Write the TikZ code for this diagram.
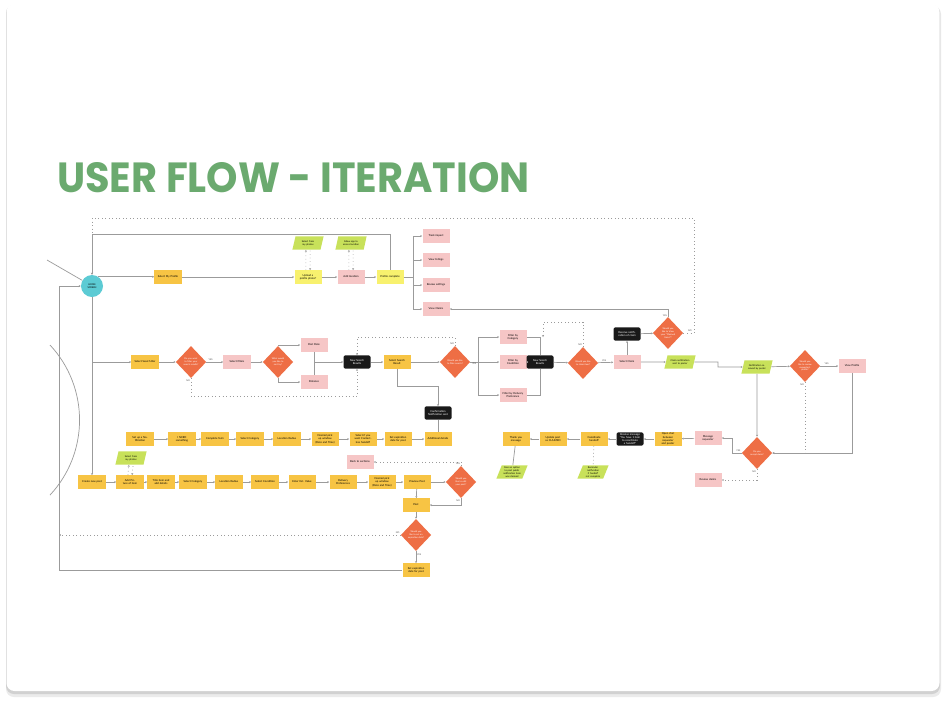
\documentclass[tikz,border=0pt]{standalone}
\usepackage{fontspec}
\setmainfont{Lato}
\newfontfamily\titlefont{Poppins}
\usetikzlibrary{shapes.geometric,arrows.meta}

\definecolor{flowyellow}{HTML}{F7C444}
\definecolor{flowlight}{HTML}{F8F16E}
\definecolor{flowpink}{HTML}{F6C6C6}
\definecolor{flowgreen}{HTML}{C8E15A}
\definecolor{floworange}{HTML}{EE6E45}
\definecolor{flowcyan}{HTML}{5CCBD4}
\definecolor{flowline}{HTML}{9B9B9B}
\definecolor{titlegreen}{HTML}{6BAA6F}

\tikzset{
  box/.style={rectangle, minimum width=0.675cm, minimum height=0.33cm, inner sep=0.2pt,
    text width=0.52cm, align=center, font=\fontsize{1.9}{2.3}\selectfont},
  ybox/.style={box, fill=flowyellow},
  lybox/.style={box, fill=flowlight},
  pbox/.style={box, fill=flowpink},
  bbox/.style={box, fill=black!90, text=white, rounded corners=1pt},
  gpar/.style={trapezium, trapezium left angle=65, trapezium right angle=115,
    trapezium stretches=true, minimum width=0.78cm, minimum height=0.33cm, inner sep=0pt,
    fill=flowgreen, text width=0.48cm, align=center, font=\fontsize{1.7}{2.1}\selectfont},
  dmd/.style={diamond, minimum width=0.76cm, minimum height=0.8cm, inner sep=0pt,
    fill=floworange, text=white, text width=0.4cm, align=center,
    font=\fontsize{1.6}{2}\selectfont},
  lbl/.style={font=\fontsize{1.6}{2}\selectfont, text=black!70, inner sep=0.6pt},
  flow/.style={draw=flowline, line width=0.5pt},
  >={Stealth[length=1.4pt,width=1.4pt]},
}

\begin{document}
\begin{tikzpicture}[x=0.025cm, y=-0.025cm]
\useasboundingbox (0,0) rectangle (947,706);
% card
\fill[white] (0,0) rectangle (947,706);
\fill[black!8, rounded corners=0.2cm] (6,6) rectangle (941,697);
\fill[black!18, rounded corners=0.2cm] (6,5) rectangle (940,694);
\fill[white, rounded corners=0.2cm] (6.5,4) rectangle (939.5,691);

% title
\node[anchor=west, inner sep=0pt, text=titlegreen] (title) at (57,178)
  {\resizebox{11.8cm}{0.75cm}{\titlefont\bfseries USER FLOW - ITERATION}};

% home
\node[circle, fill=flowcyan, minimum size=0.55cm, inner sep=0pt, align=center,
  font=\fontsize{1.7}{2}\selectfont] (home) at (92,286) {HOME\\SCREEN};
\coordinate (offL) at (47,260);
\draw[flow] (offL) -- (home);
\draw[flow] (50,345) arc[start angle=-43, end angle=43, radius=110];

% profile row
\node[ybox] (p1) at (168,277) {Select My Profile};
\node[lybox] (p2) at (308,277) {Upload a profile photo?};
\node[pbox] (p3) at (351,277) {Add location};
\node[lybox] (p4) at (390,277) {Profile complete};
\node[gpar] (pg1) at (308,243) {Select from my photos};
\node[gpar] (pg2) at (351,243) {Allow app to access location};
\node[pbox] (v1) at (436,236) {Track impact};
\node[pbox] (v2) at (436,260) {View listings};
\node[pbox] (v3) at (436,285) {Review settings};
\node[pbox] (v4) at (436,309) {View Claims};

% search row
\node[ybox] (s1) at (145,362) {Select Search Bar};
\node[dmd] (d1) at (191,362) {Do you want to filter your search results?};
\node[pbox] (s2) at (237,362) {Select filters};
\node[dmd] (d2) at (278,362) {What would you like to sort by?};
\node[pbox] (s3) at (314,345) {Post Date};
\node[pbox] (s4) at (314,382) {Distance};
\node[bbox] (b1) at (357,362) {New Search Results};
\node[ybox] (s5) at (397,362) {Select Search Result};
\node[dmd] (d3) at (455,362) {Would you like to filter search?};
\node[pbox] (f1) at (513,337) {Filter by Category};
\node[pbox] (f2) at (513,362) {Filter by Condition};
\node[pbox] (f3) at (513,395) {Filter by Delivery Preference};
\node[bbox] (b2) at (540,362) {New Search Results};
\node[dmd] (d4) at (583,363) {Would you like to claim item?};
\node[pbox] (c1) at (627,362) {Select Claim};
\node[bbox] (b3) at (627,334) {Receive notification of claim};
\node[dmd] (d5) at (668,333) {Would you like to View your ``Claimed Items''?};
\node[gpar] (g1) at (680,362) {Claim notification sent to poster};
\node[gpar] (g2) at (757,367) {Notification received by poster};
\node[dmd] (d6) at (805,366) {Would you like to review requester's profile?};
\node[pbox] (c2) at (852,366) {View Profile};
\node[bbox] (b4) at (438,413) {Confirmation Notification sent};

% claim row
\node[dmd] (d7) at (757,453) {Do you accept claim?};
\node[pbox] (m1) at (708,438) {Message requester};
\node[pbox] (m2) at (708,480) {Review claims};
\node[ybox] (r1) at (668,439) {Open chat between requester and poster};
\node[bbox] (r2) at (630,439) {Receive message ``You have 1 item to coordinate a handoff''};
\node[ybox] (r3) at (594,439) {Coordinate handoff};
\node[ybox] (r4) at (553,439) {Update post as CLAIMED};
\node[ybox] (r5) at (516,439) {Thank you message};
\node[gpar] (g3) at (512,472) {Give an option to post public notification item was claimed};
\node[gpar] (g4) at (593,472) {Reminder notification if handoff not complete};

% notification row
\node[ybox] (n1) at (140,439) {Set up a Notification};
\node[ybox] (n2) at (182,439) {I NEED something};
\node[ybox] (n3) at (215,439) {Complete form};
\node[ybox] (n4) at (250,439) {Select Category};
\node[ybox] (n5) at (287,439) {Location Radius};
\node[ybox] (n6) at (325,439) {Desired pick up window (Date and Time)};
\node[ybox] (n7) at (363,439) {Select if you want Contactless handoff};
\node[ybox] (n8) at (398,439) {Set expiration date for post};
\node[ybox] (n9) at (438,439) {Additional details};

% post row
\node[ybox] (q1) at (92,482) {Create new post};
\node[ybox] (q2) at (130,482) {Add Picture of item};
\node[gpar] (pg3) at (131,458) {Select from my photos};
\node[ybox] (q3) at (161,482) {Title item and add details};
\node[ybox] (q4) at (193,482) {Select Category};
\node[ybox] (q5) at (229,482) {Location Radius};
\node[ybox] (q6) at (265,482) {Select Condition};
\node[ybox] (q7) at (302,482) {Enter Est. Value};
\node[ybox] (q8) at (343,482) {Delivery Preferences};
\node[ybox] (q9) at (382,482) {Desired pick up window (Date and Time)};
\node[ybox] (q10) at (417,482) {Preview Post};
\node[dmd] (d8) at (461,482) {Would you like to edit your post?};
\node[pbox] (bk) at (360,462) {Back to sections};
\node[ybox] (post) at (416,505) {Post};
\node[dmd] (d9) at (416,535) {Would you like to set an expiration date?};
\node[ybox] (setexp) at (416,570) {Set expiration date for post};

% home links
\coordinate (topL) at (92,218);
\coordinate (topR) at (694,218);
\coordinate (midL) at (92,234);
\coordinate (lft) at (59,286);
\coordinate (lfx) at (59,535);
\draw[flow, dotted, ->] (d5.east) -| (topR) node[lbl, pos=0.45, above left]{NO} -- (topL) -- (home.north);
\draw[flow, ->] (p4.north) |- (midL) -- (home.north);
\draw[flow, ->] (setexp.west) -| (lft) -- (home.west);
\draw[flow, ->] (home) -- (q1);
\draw[flow, ->] (home |- s1) -- (s1);

% profile links
\draw[flow, ->] (home.55) -- (home.55 -| p1.west);
\foreach \a/\b in {p1/p2, p2/p3, p3/p4}
  \draw[flow, ->] (\a) -- (\b);
\draw[flow, dotted, ->] ([xshift=-1.5pt]p2.north) -- ([xshift=-1.5pt]pg1.south);
\draw[flow, dotted, <-] ([xshift=1.5pt]p2.north) -- ([xshift=1.5pt]pg1.south);
\draw[flow, dotted, ->] ([xshift=-1.5pt]p3.north) -- ([xshift=-1.5pt]pg2.south);
\draw[flow, dotted, <-] ([xshift=1.5pt]p3.north) -- ([xshift=1.5pt]pg2.south);
\coordinate (pb) at (413,277);
\draw[flow] (p4) -- (pb);
\foreach \v in {v1, v2, v3, v4}
  \draw[flow, ->] (pb) |- (\v);
\draw[flow, <-] (v4.east) -| (d5.north) node[lbl, pos=0.93, left]{YES};
\draw[flow, ->] (b3) -- (d5);
\draw[flow, ->] (c1) -- (b3);

% search links
\coordinate (dlow) at (191,396);
\coordinate (dhi) at (357,337);
\coordinate (fb) at (478,362);
\coordinate (dtop) at (543,322);
\coordinate (gk) at (718,362);
\coordinate (sk) at (438,386);
\draw[flow, ->] (s1) -- (d1);
\draw[flow, ->] (d1) -- (s2) node[lbl, pos=0.25, above]{YES};
\draw[flow, ->] (s2) -- (d2);
\draw[flow, ->] (d2.north) |- (s3);
\draw[flow, ->] (d2.south) |- (s4);
\draw[flow] (s3) -- (s4);
\draw[flow, ->] (s3 |- b1) -- (b1);
\draw[flow, dotted, ->] (d1.south) node[lbl, below left]{NO} -- (dlow) -| (b1.south);
\draw[flow, ->] (b1) -- (s5);
\draw[flow, ->] (s5) -- (d3);
\draw[flow, dotted, ->] (d3.north) node[lbl, above left]{NO} |- (dhi) -- (b1.north);
\draw[flow] (d3.east) -- (fb) node[lbl, pos=0.5, below]{YES};
\foreach \f in {f1, f2, f3}
  \draw[flow, ->] (fb) |- (\f);
\draw[flow] (f1) -| (b2.north);
\draw[flow] (f3) -| (b2.south);
\draw[flow, ->] (f2) -- (b2);
\draw[flow, dotted, ->] (d4.north) node[lbl, above left]{NO} |- (dtop) -- (dtop |- f1);
\draw[flow, ->] (b2) -- (d4);
\draw[flow, ->] (d4) -- (c1) node[lbl, pos=0.4, above]{YES};
\draw[flow, ->] (c1) -- (g1);
\draw[flow, ->] (g1) -- (gk) |- (g2);
\draw[flow, ->] (g2) -- (d6);
\draw[flow, ->] (d6) -- (c2) node[lbl, pos=0.35, above]{YES};
\draw[flow, ->] (s5.south) |- (sk) -- (b4.north);
\draw[flow] (b4) -- (n9);

% claim links
\coordinate (ak) at (732,453);
\draw[flow, dotted, ->] (d6.south) node[lbl, below left]{NO} -- (d6 |- d7) -- (d7.east);
\draw[flow, ->] (c2) |- (d7.east);
\draw[flow, ->] (g2) -- (d7);
\draw[flow, ->] (d7.west) node[lbl, above left]{YES} -- (ak) |- (m1);
\draw[flow, dotted, ->] (d7.south) node[lbl, below left]{NO} |- (m2);
\foreach \a/\b in {m1/r1, r1/r2, r2/r3, r3/r4, r4/r5}
  \draw[flow, ->] (\a) -- (\b);
\draw[flow] (r5) -- (g3);
\draw[flow, dotted] (r3) -- (g4);

% notification and post links
\foreach \a/\b in {n1/n2, n2/n3, n3/n4, n4/n5, n5/n6, n6/n7, n7/n8, n8/n9}
  \draw[flow, ->] (\a) -- (\b);
\foreach \a/\b in {q1/q2, q2/q3, q3/q4, q4/q5, q5/q6, q6/q7, q7/q8, q8/q9, q9/q10, q10/d8}
  \draw[flow, ->] (\a) -- (\b);
\draw[flow, dotted, ->] ([xshift=-1.5pt]q2.north) -- ([xshift=-1.5pt]pg3.south);
\draw[flow, dotted, <-] ([xshift=1.5pt]q2.north) -- ([xshift=1.5pt]pg3.south);
\draw[flow, dotted, ->] (d8.north) node[lbl, above left]{YES} |- (bk);
\draw[flow, ->] (q10) -- (post);
\draw[flow, ->] (d8.south) node[lbl, below left]{NO} |- (post);
\draw[flow, ->] (post) -- (d9);
\draw[flow, ->] (d9) -- (setexp) node[lbl, pos=0.3, right]{YES};
\draw[flow, dotted, ->] (d9.west) node[lbl, above left]{NO} -- (lfx);
\end{tikzpicture}
\end{document}
